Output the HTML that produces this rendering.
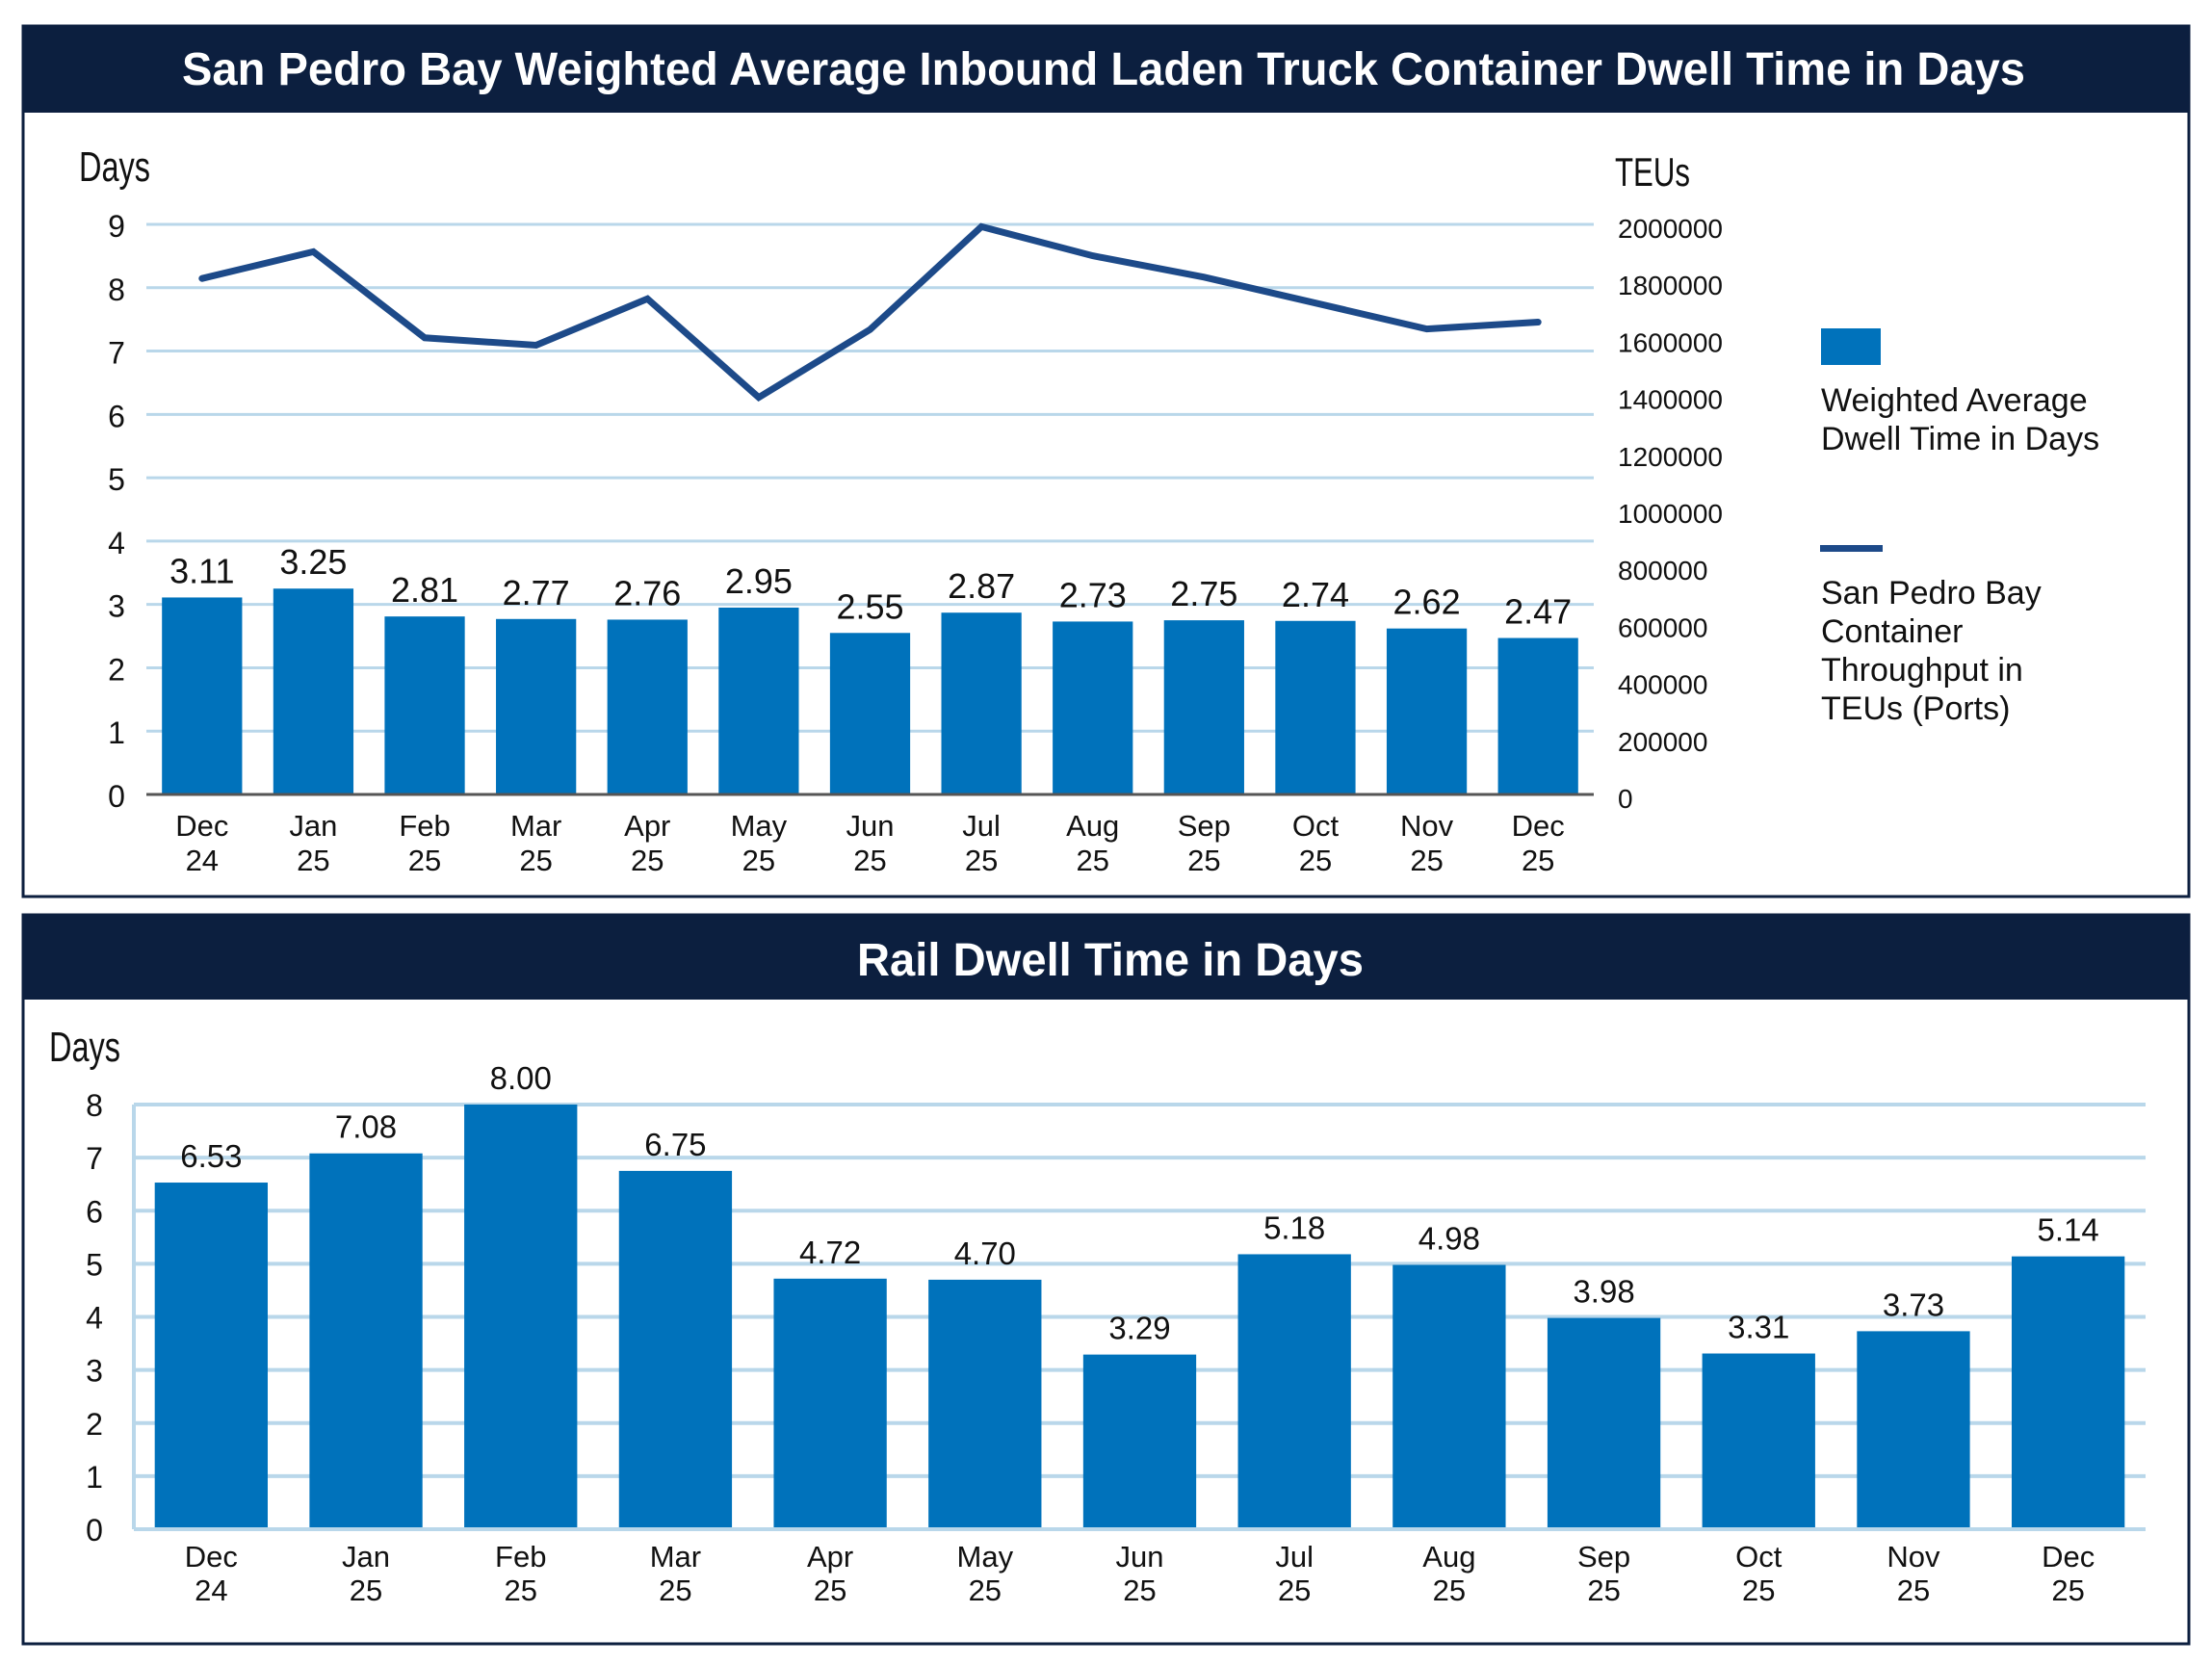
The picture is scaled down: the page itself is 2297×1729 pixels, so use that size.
<!DOCTYPE html>
<html><head><meta charset="utf-8"><style>
html,body{margin:0;padding:0;background:#fff;}
svg{display:block;font-family:"Liberation Sans",sans-serif;}
</style></head><body>
<svg id="chart" width="2297" height="1729" viewBox="0 0 2297 1729" xmlns="http://www.w3.org/2000/svg">
<rect x="0" y="0" width="2297" height="1729" fill="#fff"/>
<g>
<rect x="24" y="27" width="2249" height="904" fill="#fff" stroke="#0c1f3f" stroke-width="3"/>
<rect x="24" y="27" width="2249" height="90" fill="#0c1f3f"/>
<text x="1146" y="88" text-anchor="middle" font-size="48" font-weight="bold" fill="#fff" textLength="1914" lengthAdjust="spacingAndGlyphs">San Pedro Bay Weighted Average Inbound Laden Truck Container Dwell Time in Days</text>
<text x="82" y="188" font-size="44" fill="#111" textLength="74" lengthAdjust="spacingAndGlyphs">Days</text>
<text x="1677" y="193" font-size="42" fill="#111" textLength="78" lengthAdjust="spacingAndGlyphs">TEUs</text>
<g id="top-grid"></g><g id="top-bars"></g><g id="top-line"></g><g id="top-labels"></g>
<g>
<rect x="1891" y="341" width="62" height="38" fill="#0072bb"/>
<text font-size="34" fill="#111"><tspan x="1891" y="427">Weighted Average</tspan><tspan x="1891" y="467">Dwell Time in Days</tspan></text>
<rect x="1890" y="566" width="65" height="7" fill="#1d4a89"/>
<text font-size="34" fill="#111"><tspan x="1891" y="627">San Pedro Bay</tspan><tspan x="1891" y="667">Container</tspan><tspan x="1891" y="707">Throughput in</tspan><tspan x="1891" y="747">TEUs (Ports)</tspan></text>
</g>
</g>
<g>
<rect x="24" y="950" width="2249" height="757" fill="#fff" stroke="#0c1f3f" stroke-width="3"/>
<rect x="24" y="950" width="2249" height="88" fill="#0c1f3f"/>
<text x="1153" y="1013" text-anchor="middle" font-size="48" font-weight="bold" fill="#fff" textLength="526" lengthAdjust="spacingAndGlyphs">Rail Dwell Time in Days</text>
<text x="51" y="1102" font-size="44" fill="#111" textLength="74" lengthAdjust="spacingAndGlyphs">Days</text>
<g id="bot-grid"></g><g id="bot-bars"></g><g id="bot-labels"></g>
</g>
</svg>
<script>
const cats1 = ["Dec","Jan","Feb","Mar","Apr","May","Jun","Jul","Aug","Sep","Oct","Nov","Dec"];
const cats2 = ["24","25","25","25","25","25","25","25","25","25","25","25","25"];
const truckDwell = [3.11,3.25,2.81,2.77,2.76,2.95,2.55,2.87,2.73,2.75,2.74,2.62,2.47];
const teus = [1810000,1904000,1602000,1576000,1739000,1393000,1631000,1992000,1890000,1815000,1724000,1633000,1657000];
const leftTicks = [0,1,2,3,4,5,6,7,8,9];
const rightTicks = [0,200000,400000,600000,800000,1000000,1200000,1400000,1600000,1800000,2000000];
const railDwell = [6.53,7.08,8.00,6.75,4.72,4.70,3.29,5.18,4.98,3.98,3.31,3.73,5.14];
const railTicks = [0,1,2,3,4,5,6,7,8];

const NS="http://www.w3.org/2000/svg";
function mk(parent,tag,attrs,txt){const e=document.createElementNS(NS,tag);for(const k in attrs)e.setAttribute(k,attrs[k]);if(txt!==undefined)e.textContent=txt;parent.appendChild(e);return e;}

// top chart scales
const tX0=152,tX1=1655,tY0=825,tY9=233;
const tBand=(tX1-tX0)/cats1.length;
const tx=i=>tX0+tBand*(i+0.5);
const ty=v=>tY0-(v/9)*(tY0-tY9);
const ty2=v=>tY0-(v/2000000)*(tY0-tY9);
const tg=document.getElementById('top-grid');
leftTicks.forEach(t=>{
  if(t>0){const l=mk(tg,'line',{x1:tX0,x2:tX1,y1:ty(t),y2:ty(t),stroke:'#b9d7ea','stroke-width':3});
  
  }
  const tt=mk(tg,'text',{x:121,y:ty(t)+13,'text-anchor':'middle','font-size':32,fill:'#111'},String(t));
  
  
});
rightTicks.forEach(t=>{
  const tt=mk(tg,'text',{x:1680,y:ty2(t)+14,'font-size':28,fill:'#111'},String(t));
  
  
});
const tb=document.getElementById('top-bars');
const tl=document.getElementById('top-labels');
const bw1=tBand*0.72;
truckDwell.forEach((v,i)=>{
  const r=mk(tb,'rect',{x:tx(i)-bw1/2,y:ty(v),width:bw1,height:tY0-ty(v),fill:'#0072bb'});
  
  
  const t=mk(tl,'text',{x:tx(i),y:ty(v)-15,'text-anchor':'middle','font-size':36,fill:'#111'},v.toFixed(2));
  
  
  const c=mk(tl,'text',{x:tx(i),'text-anchor':'middle','font-size':31,fill:'#111'});
  
  
  mk(c,'tspan',{x:tx(i),y:868},cats1[i]);mk(c,'tspan',{x:tx(i),y:904},cats2[i]);
});
const base=mk(tb,'line',{x1:tX0,x2:tX1,y1:tY0,y2:tY0,stroke:'#555','stroke-width':3});


const tln=document.getElementById('top-line');
const pts=teus.map((v,i)=>tx(i).toFixed(1)+','+ty2(v).toFixed(1)).join(' ');
const pl=mk(tln,'polyline',{points:pts,fill:'none',stroke:'#1d4a89','stroke-width':7,'stroke-linejoin':'miter','stroke-linecap':'round'});



// bottom chart
const bX0=139,bX1=2228,bY0=1588,bY8=1147;
const bBand=(bX1-bX0)/cats1.length;
const bx=i=>bX0+bBand*(i+0.5);
const by=v=>bY0-(v/8)*(bY0-bY8);
const bg=document.getElementById('bot-grid');
railTicks.forEach(t=>{
  const l=mk(bg,'line',{x1:bX0,x2:bX1,y1:by(t),y2:by(t),stroke:'#b9d7ea','stroke-width':4});
  
  
  const tt=mk(bg,'text',{x:98,y:by(t)+12,'text-anchor':'middle','font-size':32,fill:'#111'},String(t));
  
  
});
const ax=mk(bg,'line',{x1:bX0,x2:bX0,y1:bY8,y2:bY0,stroke:'#b9d7ea','stroke-width':4});


const bb=document.getElementById('bot-bars');
const bl=document.getElementById('bot-labels');
const bw2=bBand*0.73;
railDwell.forEach((v,i)=>{
  const r=mk(bb,'rect',{x:bx(i)-bw2/2,y:by(v),width:bw2,height:bY0-by(v)-2,fill:'#0072bb'});
  
  
  const t=mk(bl,'text',{x:bx(i),y:by(v)-16,'text-anchor':'middle','font-size':33,fill:'#111'},v.toFixed(2));
  
  
  const c=mk(bl,'text',{x:bx(i),'text-anchor':'middle','font-size':31,fill:'#111'});
  
  
  mk(c,'tspan',{x:bx(i),y:1627},cats1[i]);mk(c,'tspan',{x:bx(i),y:1662},cats2[i]);
});
</script>
</body></html>
